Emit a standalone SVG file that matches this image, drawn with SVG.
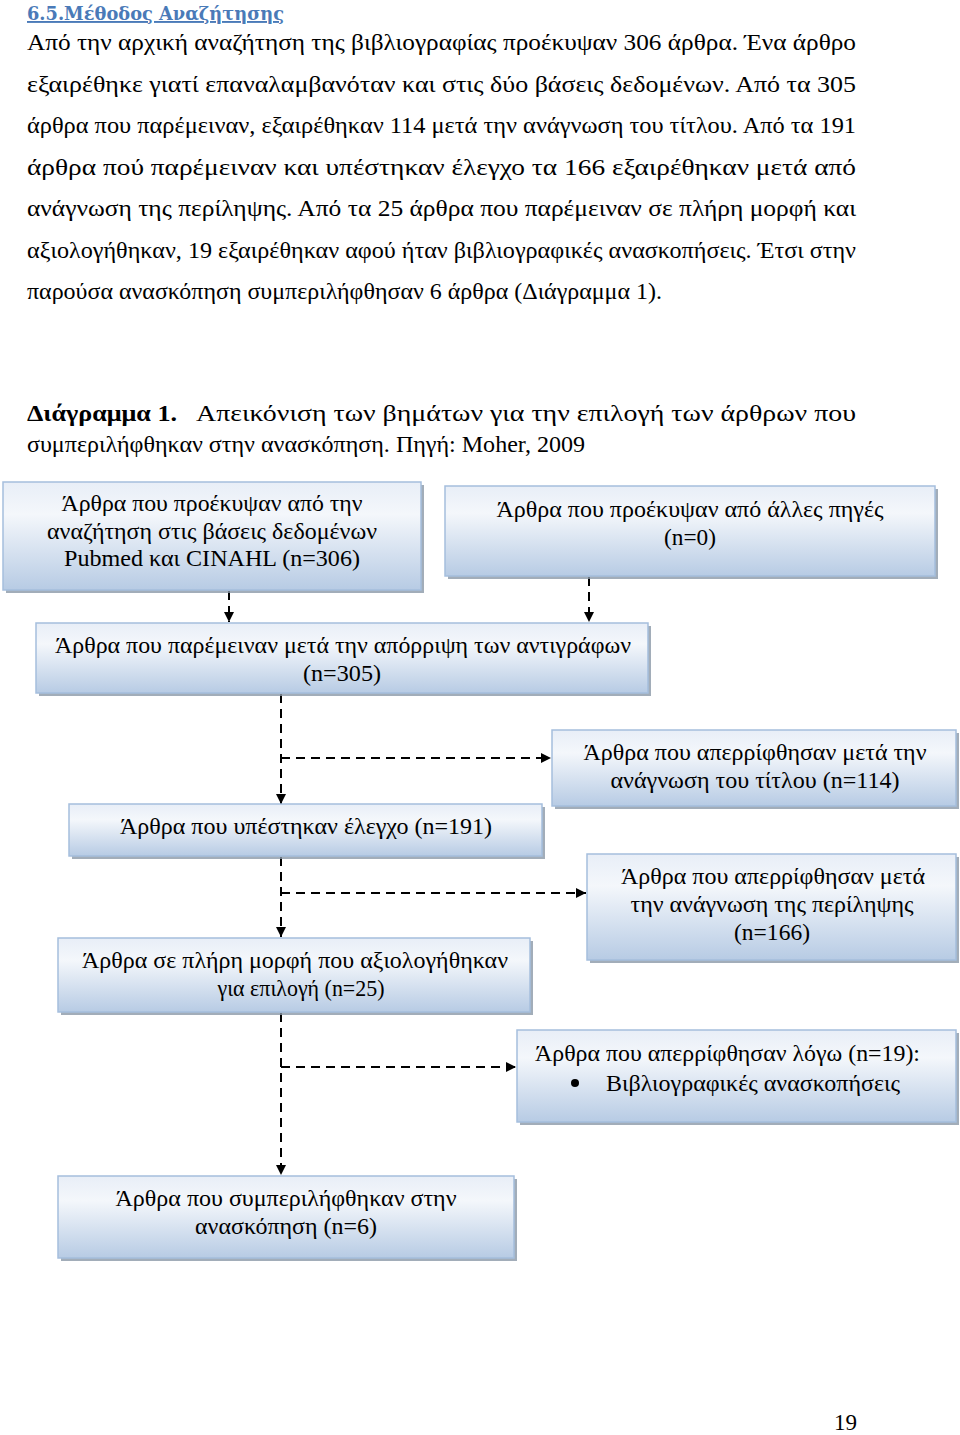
<svg xmlns="http://www.w3.org/2000/svg" width="960" height="1435" viewBox="0 0 960 1435">
<defs>
<linearGradient id="g" x1="0" y1="0" x2="0" y2="1">
<stop offset="0" stop-color="#e8eef7"/>
<stop offset="0.3" stop-color="#f4f7fb"/>
<stop offset="1" stop-color="#b7cbe4"/>
</linearGradient>
<marker id="ah" viewBox="0 0 10 10" refX="10" refY="5" markerWidth="10" markerHeight="10" markerUnits="userSpaceOnUse" orient="auto">
<path d="M0,0 L10,5 L0,10 z" fill="#000"/>
</marker>
</defs>
<style>
.body{font-family:"Liberation Serif","DejaVu Serif","Times New Roman",serif;font-size:23px;fill:#000}
.bt{font-family:"Liberation Serif","DejaVu Serif","Times New Roman",serif;font-size:23px;fill:#000;text-anchor:middle}
.bl{font-family:"Liberation Serif","DejaVu Serif","Times New Roman",serif;font-size:23px;fill:#000}
.box{fill:url(#g);stroke:#a5bedd;stroke-width:1.5}
.sh{fill:#8b98a8;opacity:0.8}
.ca{stroke:#000;stroke-width:2;fill:none;stroke-dasharray:9,6;marker-end:url(#ah)}
</style>
<rect width="960" height="1435" fill="#fff"/>
<text x="27" y="20" font-family="'DejaVu Serif','Liberation Serif',serif" font-size="19" font-weight="bold" fill="#4a7ab8" text-decoration="underline" textLength="257" lengthAdjust="spacingAndGlyphs">6.5.Μέθοδος Αναζήτησης</text>
<g class="body">
<text x="27" y="50" textLength="829" lengthAdjust="spacingAndGlyphs">Από την αρχική αναζήτηση της βιβλιογραφίας προέκυψαν 306 άρθρα. Ένα άρθρο</text>
<text x="27" y="92" textLength="829" lengthAdjust="spacingAndGlyphs">εξαιρέθηκε γιατί επαναλαμβανόταν και στις δύο βάσεις δεδομένων.  Από τα 305</text>
<text x="27" y="133" textLength="829" lengthAdjust="spacingAndGlyphs">άρθρα που παρέμειναν, εξαιρέθηκαν 114 μετά την ανάγνωση του τίτλου. Από τα 191</text>
<text x="27" y="175" textLength="829" lengthAdjust="spacingAndGlyphs">άρθρα πού παρέμειναν και υπέστηκαν έλεγχο τα 166 εξαιρέθηκαν μετά από</text>
<text x="27" y="216" textLength="829" lengthAdjust="spacingAndGlyphs">ανάγνωση της περίληψης. Από τα 25 άρθρα που παρέμειναν σε πλήρη μορφή και</text>
<text x="27" y="258" textLength="829" lengthAdjust="spacingAndGlyphs">αξιολογήθηκαν, 19 εξαιρέθηκαν αφού ήταν βιβλιογραφικές ανασκοπήσεις. Έτσι στην</text>
<text x="27" y="299" textLength="635" lengthAdjust="spacingAndGlyphs">παρούσα ανασκόπηση συμπεριλήφθησαν 6 άρθρα (Διάγραμμα 1).</text>
<text x="27" y="421" font-weight="bold" textLength="150" lengthAdjust="spacingAndGlyphs">Διάγραμμα 1.</text>
<text x="196" y="421" textLength="660" lengthAdjust="spacingAndGlyphs">Απεικόνιση των βημάτων για την επιλογή των άρθρων που</text>
<text x="27" y="452" textLength="558" lengthAdjust="spacingAndGlyphs">συμπεριλήφθηκαν στην ανασκόπηση. Πηγή: Moher, 2009</text>
<text x="834" y="1430">19</text>
</g>
<g id="connectors">
<line class="ca" x1="229" y1="591" x2="229" y2="622"/>
<line class="ca" x1="589" y1="577" x2="589" y2="622"/>
<line class="ca" x1="281" y1="694" x2="281" y2="804"/>
<line class="ca" x1="281" y1="758" x2="551" y2="758"/>
<line class="ca" x1="281" y1="857" x2="281" y2="937"/>
<line class="ca" x1="281" y1="893" x2="586" y2="893"/>
<line class="ca" x1="281" y1="1013" x2="281" y2="1175"/>
<line class="ca" x1="281" y1="1067" x2="516" y2="1067"/>
</g>
<g id="n1">
<rect class="sh" x="6" y="485" width="418" height="108"/>
<rect class="box" x="3" y="482" width="418" height="108"/>
<text class="bt" x="212" y="511" textLength="301" lengthAdjust="spacingAndGlyphs">Άρθρα που προέκυψαν από την</text>
<text class="bt" x="212" y="539" textLength="330" lengthAdjust="spacingAndGlyphs">αναζήτηση στις βάσεις δεδομένων</text>
<text class="bt" x="212" y="566" textLength="296" lengthAdjust="spacingAndGlyphs">Pubmed και CINAHL (n=306)</text>
</g>
<g id="n2">
<rect class="sh" x="448" y="489" width="490" height="90"/>
<rect class="box" x="445" y="486" width="490" height="90"/>
<text class="bt" x="690" y="517" textLength="387" lengthAdjust="spacingAndGlyphs">Άρθρα που προέκυψαν από άλλες πηγές</text>
<text class="bt" x="690" y="545" textLength="52" lengthAdjust="spacingAndGlyphs">(n=0)</text>
</g>
<g id="n3">
<rect class="sh" x="39" y="626" width="612" height="70"/>
<rect class="box" x="36" y="623" width="612" height="70"/>
<text class="bt" x="343" y="653" textLength="576" lengthAdjust="spacingAndGlyphs">Άρθρα που παρέμειναν μετά την απόρριψη των αντιγράφων</text>
<text class="bt" x="342" y="681" textLength="78" lengthAdjust="spacingAndGlyphs">(n=305)</text>
</g>
<g id="n4">
<rect class="sh" x="555" y="733" width="404" height="76"/>
<rect class="box" x="552" y="730" width="404" height="76"/>
<text class="bt" x="755" y="760" textLength="343" lengthAdjust="spacingAndGlyphs">Άρθρα που απερρίφθησαν μετά την</text>
<text class="bt" x="755" y="788" textLength="289" lengthAdjust="spacingAndGlyphs">ανάγνωση του τίτλου (n=114)</text>
</g>
<g id="n5">
<rect class="sh" x="72" y="807" width="473" height="52"/>
<rect class="box" x="69" y="804" width="473" height="52"/>
<text class="bt" x="306" y="834" textLength="372" lengthAdjust="spacingAndGlyphs">Άρθρα που υπέστηκαν έλεγχο (n=191)</text>
</g>
<g id="n6">
<rect class="sh" x="590" y="857" width="369" height="106"/>
<rect class="box" x="587" y="854" width="369" height="106"/>
<text class="bt" x="773" y="884" textLength="304" lengthAdjust="spacingAndGlyphs">Άρθρα που απερρίφθησαν μετά</text>
<text class="bt" x="772" y="912" textLength="283" lengthAdjust="spacingAndGlyphs">την ανάγνωση της περίληψης</text>
<text class="bt" x="772" y="940" textLength="76" lengthAdjust="spacingAndGlyphs">(n=166)</text>
</g>
<g id="n7">
<rect class="sh" x="61" y="941" width="472" height="74"/>
<rect class="box" x="58" y="938" width="472" height="74"/>
<text class="bt" x="295" y="968" textLength="426" lengthAdjust="spacingAndGlyphs">Άρθρα σε πλήρη μορφή που αξιολογήθηκαν</text>
<text class="bt" x="301" y="996" textLength="167" lengthAdjust="spacingAndGlyphs">για επιλογή (n=25)</text>
</g>
<g id="n8">
<rect class="sh" x="520" y="1033" width="439" height="92"/>
<rect class="box" x="517" y="1030" width="439" height="92"/>
<text class="bl" x="535" y="1061" textLength="385" lengthAdjust="spacingAndGlyphs">Άρθρα που απερρίφθησαν λόγω (n=19):</text>
<circle cx="575" cy="1083" r="4" fill="#000"/>
<text class="bl" x="606" y="1091" textLength="294" lengthAdjust="spacingAndGlyphs">Βιβλιογραφικές ανασκοπήσεις</text>
</g>
<g id="n9">
<rect class="sh" x="61" y="1179" width="456" height="82"/>
<rect class="box" x="58" y="1176" width="456" height="82"/>
<text class="bt" x="286" y="1206" textLength="341" lengthAdjust="spacingAndGlyphs">Άρθρα που συμπεριλήφθηκαν στην</text>
<text class="bt" x="286" y="1234" textLength="182" lengthAdjust="spacingAndGlyphs">ανασκόπηση (n=6)</text>
</g>
</svg>
